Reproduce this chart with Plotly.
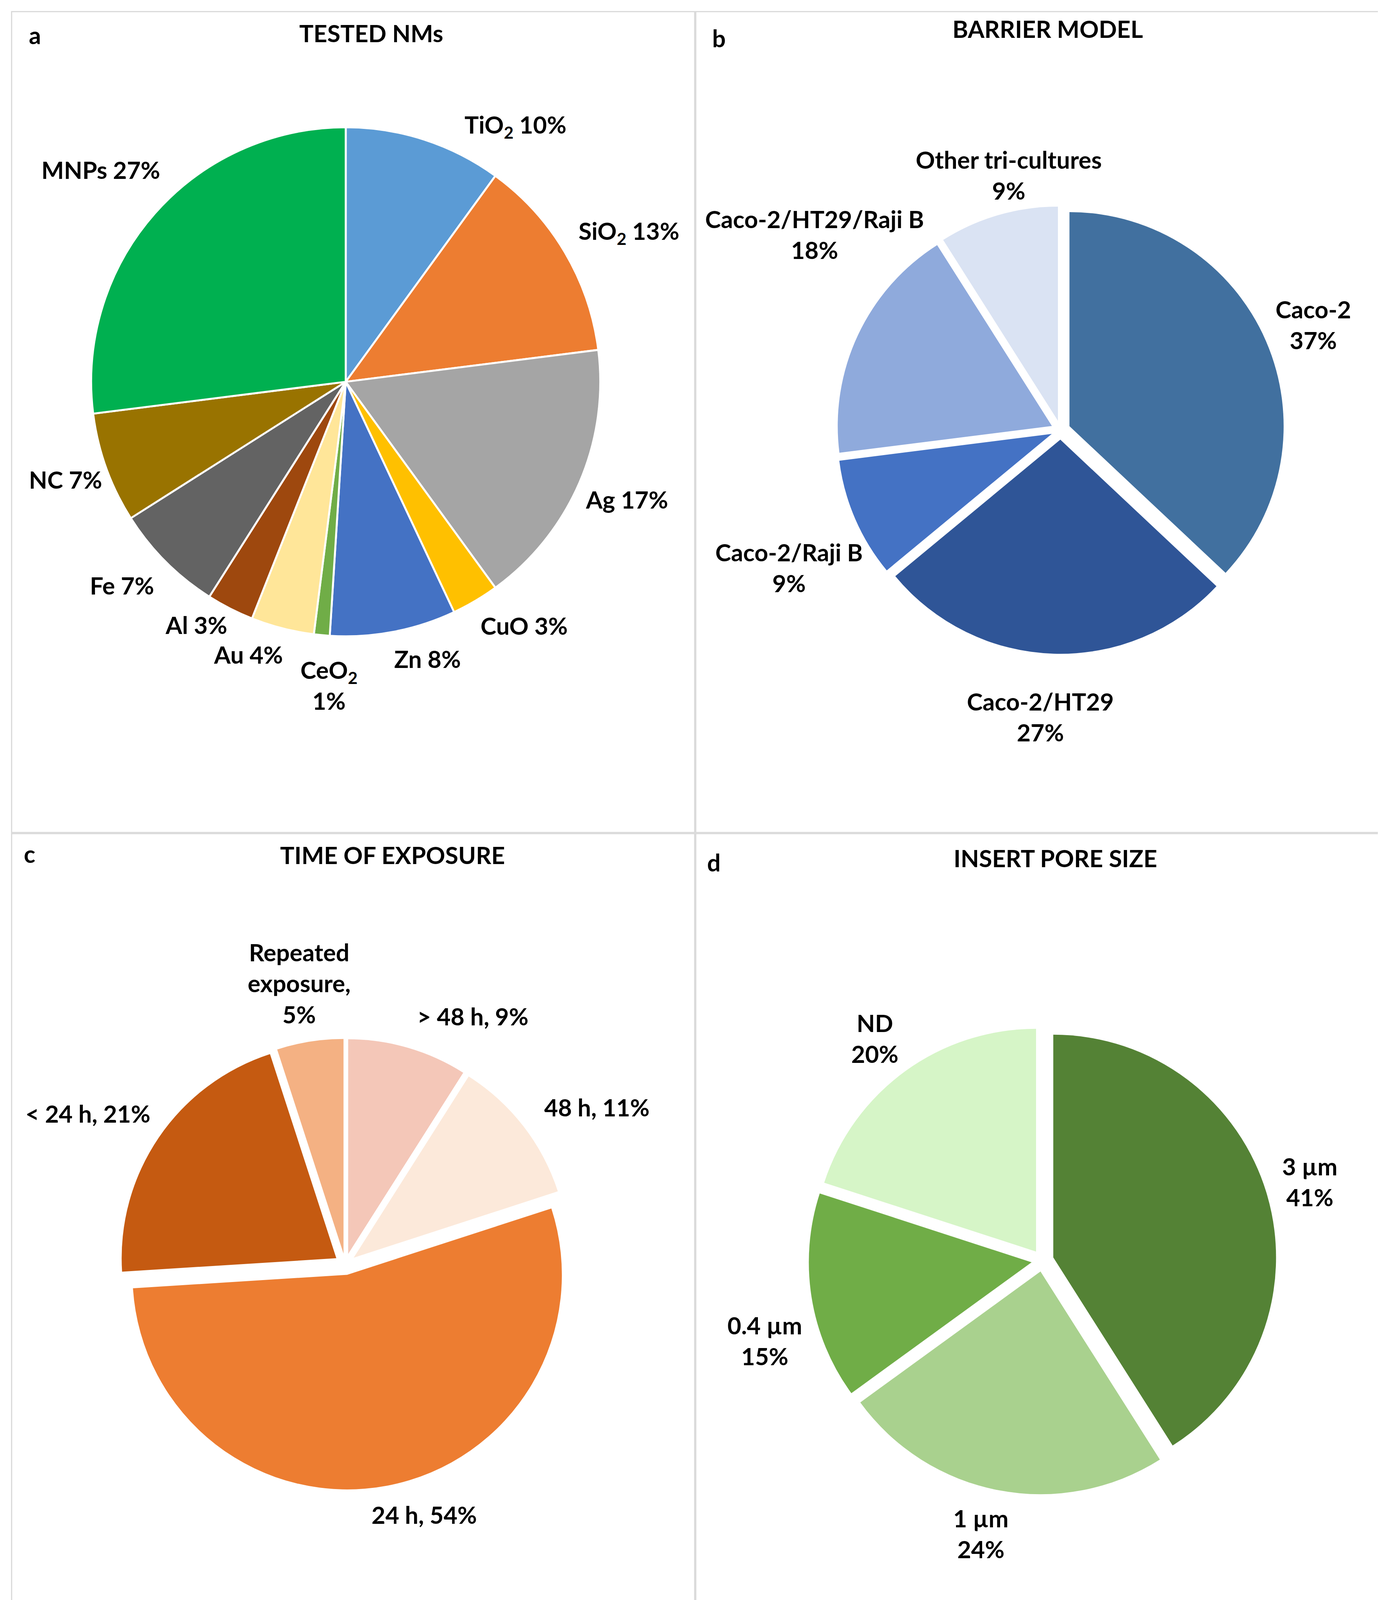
import plotly.graph_objects as go

# a - tested nanomaterials
nm_labels = ['TiO<sub>2</sub>', 'SiO<sub>2</sub>', 'Ag', 'CuO', 'Zn', 'CeO<sub>2</sub>',
             'Au', 'Al', 'Fe', 'NC', 'MNPs']
nm_pct = [10, 13, 17, 3, 8, 1, 4, 3, 7, 7, 27]
nm_colors = ['#5B9BD5', '#ED7D31', '#A5A5A5', '#FFC000', '#4472C4', '#70AD47',
             '#FFE699', '#9E480E', '#636363', '#997300', '#00B050']

# b - barrier model
bm_labels = ['Caco-2', 'Caco-2/HT29', 'Caco-2/Raji B', 'Caco-2/HT29/Raji B', 'Other tri-cultures']
bm_pct = [37, 27, 9, 18, 9]
bm_colors = ['#41709F', '#2F5597', '#4472C4', '#8FAADC', '#DAE3F3']

# c - time of exposure
te_labels = ['> 48 h', '48 h', '24 h', '< 24 h', 'Repeated<br>exposure']
te_pct = [9, 11, 54, 21, 5]
te_colors = ['#F4C7B8', '#FCE9DA', '#ED7D31', '#C55A11', '#F4B183']

# d - insert pore size
ps_labels = ['3 µm', '1 µm', '0.4 µm', 'ND']
ps_pct = [41, 24, 15, 20]
ps_colors = ['#548235', '#A9D18E', '#70AD47', '#D6F5C7']

W, H = 3535, 4244
GX, GY = 1302, 1563  # layout grid (reference units)


def px(x, y):
    return x / GX, 1 - y / GY


def dom(x0, x1, y0, y1):
    return dict(x=[x0 / GX, x1 / GX], y=[1 - y1 / GY, 1 - y0 / GY])


FONT = dict(family='Lato', size=61, color='#000000', weight='bold')

fig = go.Figure()

fig.add_trace(go.Pie(labels=nm_labels, values=nm_pct, marker=dict(colors=nm_colors, line=dict(color='white', width=5)),
                     sort=False, direction='clockwise', rotation=0, textinfo='none',
                     domain=dom(83, 563, 117, 597), showlegend=False))
fig.add_trace(go.Pie(labels=bm_labels, values=bm_pct, marker=dict(colors=bm_colors, line=dict(width=0)),
                     sort=False, direction='clockwise', rotation=0, textinfo='none', pull=0.045,
                     domain=dom(786, 1208, 191, 614), showlegend=False))
fig.add_trace(go.Pie(labels=te_labels, values=te_pct, marker=dict(colors=te_colors, line=dict(width=0)),
                     sort=False, direction='clockwise', rotation=0, textinfo='none', pull=0.05,
                     domain=dom(110, 535, 973, 1405), showlegend=False))
fig.add_trace(go.Pie(labels=ps_labels, values=ps_pct, marker=dict(colors=ps_colors, line=dict(width=0)),
                     sort=False, direction='clockwise', rotation=0, textinfo='none', pull=0.05,
                     domain=dom(757, 1203, 965, 1406), showlegend=False))

annotations = []


def label(text, x, y):
    ax, ay = px(x, y)
    annotations.append(dict(text=text, x=ax, y=ay, xref='paper', yref='paper', showarrow=False,
                            xanchor='center', yanchor='middle', font=FONT, align='center'))


# panel titles and letters
label('TESTED NMs', 347, 28)
label('BARRIER MODEL', 985, 24)
label('TIME OF EXPOSURE', 367, 803)
label('INSERT PORE SIZE', 992, 806)
label('a', 30, 30)
label('b', 675, 33)
label('c', 25, 802)
label('d', 670, 810)

# a labels
a_pos = [(483, 116), (590, 216), (588, 468), (491, 587), (400, 618), (307, 643),
         (231, 614), (182, 586), (112, 549), (59, 449), (92, 157)]
for name, p, (x, y) in zip(nm_labels, nm_pct, a_pos):
    sep = '<br>' if name.startswith('CeO') else ' '
    label(f'{name}{sep}{p}%', x, y)

# b labels
b_pos = [(1235, 303), (978, 673), (741, 532), (765, 218), (948, 162)]
for name, p, (x, y) in zip(bm_labels, bm_pct, b_pos):
    label(f'{name}<br>{p}%', x, y)

# c labels
c_pos = [(443, 955), (560, 1041), (397, 1425), (80, 1047), (279, 924)]
for name, p, (x, y) in zip(te_labels, te_pct, c_pos):
    sep = ',<br>' if 'exposure' in name else ', '
    label(f'{name}{sep}{p}%', x, y)

# d labels
d_pos = [(1232, 1111), (922, 1443), (718, 1261), (822, 976)]
for name, p, (x, y) in zip(ps_labels, ps_pct, d_pos):
    label(f'{name}<br>{p}%', x, y)

# panel frames
shapes = []
for x0, x1, y0, y1 in [(8, 652, 8, 782), (653, 1298, 8, 782), (8, 652, 783, 1558), (653, 1298, 783, 1558)]:
    a0, b0 = px(x0, y1)
    a1, b1 = px(x1, y0)
    shapes.append(dict(type='rect', xref='paper', yref='paper', x0=a0, x1=a1, y0=b0, y1=b1,
                       line=dict(color='#D9D9D9', width=3), fillcolor='rgba(0,0,0,0)'))

fig.update_layout(width=W, height=H, margin=dict(l=0, r=0, t=0, b=0),
                  paper_bgcolor='white', plot_bgcolor='white',
                  annotations=annotations, shapes=shapes, showlegend=False)

fig.write_html('out.html')
